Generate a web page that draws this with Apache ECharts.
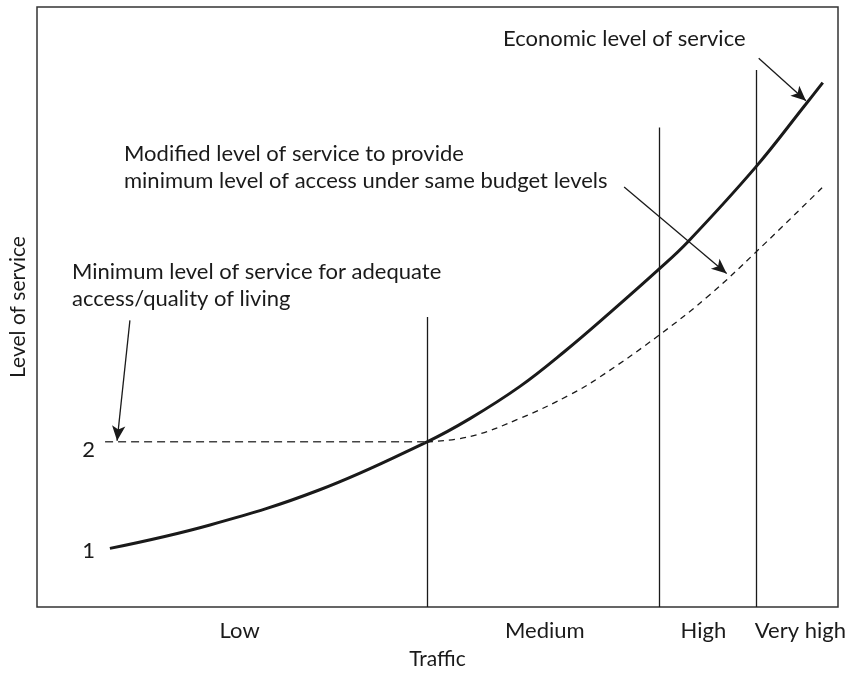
<!DOCTYPE html>
<html>
<head>
<meta charset="utf-8">
<script src="https://cdn.jsdelivr.net/npm/echarts@6/dist/echarts.min.js"></script>
<style>
html,body{margin:0;padding:0;background:#fff;}
#main{width:848px;height:673px;}
</style>
</head>
<body>
<div id="main"></div>
<script>
// ---- data ----
const bandLabels = ['Low', 'Medium', 'High', 'Very high'];
const bandLabelPos = [25.3, 63.4, 83.2, 95.3];
const bandEdges = [48.7, 77.65, 89.75];
const bandEdgeTops = [3.17, 4.95, 5.49];
const yTicks = [1, 2];

const economicX = [9.1, 21.6, 35.3, 48.7, 54.1, 60.3, 65.9, 71.5, 77.65, 81.3, 89.75, 96.0, 98.1];
const economicY = [1.0, 1.22, 1.55, 2.0, 2.22, 2.52, 2.85, 3.21, 3.62, 3.88, 4.58, 5.17, 5.37];

const minimumX = [8.5, 48.7];
const minimumY = [2, 2];

const modifiedX = [48.7, 54.1, 60.3, 66.5, 70.3, 77.65, 84.0, 89.75, 98.1];
const modifiedY = [2.0, 2.05, 2.22, 2.44, 2.61, 3.0, 3.38, 3.78, 4.39];

// annotation arrows: [fromX, fromY, toX, toY]
const arrowEconomic = [90.1, 5.6, 96.0, 5.2];
const arrowModified = [73.3, 4.39, 86.1, 3.58];
const arrowMinimum = [11.6, 3.14, 10.0, 2.01];

const textEconomic = ['Economic level of service'];
const textModified = ['Modified level of service to provide', 'minimum level of access under same budget levels'];
const textMinimum = ['Minimum level of service for adequate', 'access/quality of living'];

const FONT = 'Lato';
const INK = '#1a1a1a';

function pairs(xs, ys) { return xs.map((x, i) => [x, ys[i]]); }

const chart = echarts.init(document.getElementById('main'), null, { renderer: 'canvas' });

const vLines = bandEdges.map((x, i) => [{ coord: [x, 0.45] }, { coord: [x, bandEdgeTops[i]] }]);
const arrows = [arrowEconomic, arrowModified, arrowMinimum].map(a => [{ coord: [a[0], a[1]] }, { coord: [a[2], a[3]] }]);

const option = {
  animation: false,
  backgroundColor: '#fff',
  grid: {
    left: 37, right: 10, top: 7, bottom: 66,
    show: true, borderColor: '#333', borderWidth: 1.5,
    containLabel: false, outerBoundsMode: 'none'
  },
  xAxis: {
    type: 'value', min: 0, max: 100,
    axisLine: { show: false }, axisTick: { show: false }, splitLine: { show: false },
    axisLabel: {
      customValues: bandLabelPos,
      formatter: v => { const i = bandLabelPos.indexOf(v); return i >= 0 ? bandLabels[i] : ''; },
      fontFamily: FONT, fontSize: 22, color: INK, margin: 13
    },
    name: 'Traffic', nameLocation: 'middle', nameGap: 42,
    nameTextStyle: { fontFamily: FONT, fontSize: 21, color: INK }
  },
  yAxis: {
    type: 'value', min: 0.45, max: 6.08,
    axisLine: { show: false }, axisTick: { show: false }, splitLine: { show: false },
    axisLabel: {
      customValues: yTicks, inside: true, align: 'right', margin: 58,
      fontFamily: FONT, fontSize: 22, color: INK,
      formatter: v => (v === 2 ? '{lo|' + v + '}' : '{hi|' + v + '}'),
      rich: {
        lo: { fontFamily: FONT, fontSize: 22, color: INK, padding: [16, 0, 0, 0] },
        hi: { fontFamily: FONT, fontSize: 22, color: INK, padding: [5, 0, 0, 0] }
      }
    },
    name: 'Level of service', nameLocation: 'middle', nameGap: 8, nameRotate: 90,
    nameTextStyle: { fontFamily: FONT, fontSize: 21, color: INK }
  },
  series: [
    {
      name: 'Economic level of service', type: 'line', data: pairs(economicX, economicY),
      smooth: 0.4, symbol: 'none', lineStyle: { width: 3, color: INK }, silent: true
    },
    {
      name: 'Minimum level', type: 'line', data: pairs(minimumX, minimumY),
      symbol: 'none', lineStyle: { width: 1.4, color: '#444', type: [8, 5] }, silent: true
    },
    {
      name: 'Modified level of service', type: 'line', data: pairs(modifiedX, modifiedY),
      smooth: 0.4, symbol: 'none', lineStyle: { width: 1.3, color: INK, type: [6, 5] }, silent: true
    },
    {
      type: 'line', data: [], silent: true,
      markLine: {
        silent: true, symbol: ['none', 'none'], animation: false,
        label: { show: false },
        lineStyle: { color: INK, width: 1.3, type: 'solid' },
        data: vLines
      }
    },
    {
      type: 'line', data: [], silent: true,
      markLine: {
        silent: true, symbol: ['none', 'arrow'], symbolSize: [10, 15], animation: false,
        label: { show: false },
        lineStyle: { color: INK, width: 1.3, type: 'solid' },
        itemStyle: { color: INK },
        data: arrows
      }
    }
  ],
  graphic: [
    { type: 'text', left: 503, top: 28, style: { text: textEconomic.join('\n'), font: '22px ' + FONT, fill: INK } },
    { type: 'text', left: 124, top: 140, style: { text: textModified.join('\n'), font: '22px ' + FONT, fill: INK, lineHeight: 27 } },
    { type: 'text', left: 72, top: 258, style: { text: textMinimum.join('\n'), font: '22px ' + FONT, fill: INK, lineHeight: 27 } }
  ]
};
chart.setOption(option);
</script>
</body>
</html>
